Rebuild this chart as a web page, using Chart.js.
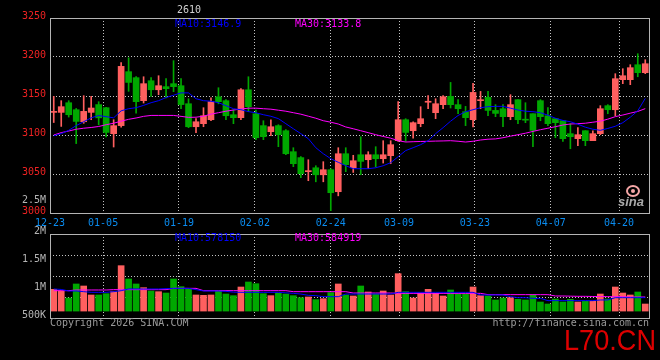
<!DOCTYPE html>
<html>
<head>
<meta charset="utf-8">
<script src="https://cdn.jsdelivr.net/npm/chart.js@4.4.1/dist/chart.umd.min.js"></script>
<style>
  html, body { margin: 0; padding: 0; background: #000; }
  #wrap { position: relative; width: 660px; height: 360px; background: #000; }
  #wrap canvas { position: absolute; left: 0; top: 0; }
</style>
</head>
<body>
<div id="wrap">
  <canvas id="kline" width="660" height="360"></canvas>
  <canvas id="volume" width="660" height="360"></canvas>
</div>
<script>
// trading days shown on the chart
const dates = [
  '12-23', '12-24', '12-25', '12-26', '12-29', '12-30', '12-31',
  '01-05', '01-06', '01-07', '01-08', '01-09', '01-12', '01-13', '01-14', '01-15', '01-16',
  '01-19', '01-20', '01-21', '01-22', '01-23', '01-26', '01-27', '01-28', '01-29', '01-30',
  '02-02', '02-03', '02-04', '02-05', '02-06', '02-09', '02-10', '02-11', '02-12', '02-13',
  '02-24', '02-25', '02-26', '02-27',
  '03-02', '03-03', '03-04', '03-05', '03-06', '03-09', '03-10', '03-11', '03-12', '03-13',
  '03-16', '03-17', '03-18', '03-19', '03-20', '03-23', '03-24', '03-25', '03-26', '03-27',
  '03-30', '03-31', '04-01', '04-02', '04-03',
  '04-07', '04-08', '04-09', '04-10', '04-13', '04-14', '04-15', '04-16', '04-17',
  '04-20', '04-21', '04-22', '04-23', '04-24'
];
const tickDates = ['12-23', '01-05', '01-19', '02-02', '02-24', '03-09', '03-23', '04-07', '04-20'];

const openP = [
  3129, 3129, 3141.4, 3132.4, 3117, 3129, 3139, 3135, 3101.7, 3112,
  3181.2, 3173.5, 3144, 3169.6, 3158, 3162, 3165.8, 3163.2, 3140.1, 3110.6,
  3114.5, 3119.6, 3149, 3144, 3126, 3122.2, 3158, 3127.3, 3112, 3104.2,
  3112, 3105.5, 3078.6, 3071, 3053, 3058, 3049, 3055.5, 3027.3, 3076,
  3058, 3074.7, 3068.3, 3074.7, 3069.6, 3073.5, 3092.7, 3119.6, 3105.5, 3114.5,
  3142, 3128.6, 3138.9, 3149.5, 3138.9, 3129.9, 3119.6, 3144, 3148.2, 3131.5,
  3133.7, 3123.5, 3145.3, 3119.6, 3127.3, 3144, 3124.7, 3120.9, 3118.3, 3101.7,
  3095.3, 3105.5, 3092.7, 3101.7, 3137.6, 3132.4, 3170.9, 3170.9, 3190.1, 3179.9
];
const highP = [
  3149.5, 3144, 3144, 3134, 3150.4, 3149.5, 3142.7, 3135.5, 3119.6, 3193,
  3199, 3175, 3174.7, 3173.5, 3176, 3172.2, 3195.3, 3172.2, 3146.5, 3121,
  3135, 3147.8, 3160.6, 3145.3, 3132.4, 3159.4, 3174.7, 3132, 3118.3, 3119.6,
  3113.2, 3106.8, 3083.7, 3072.2, 3068.3, 3060.6, 3065.8, 3056.8, 3083.7, 3083.7,
  3074, 3097.8, 3078.6, 3085, 3092.7, 3092.7, 3142.7, 3120.9, 3117, 3136.3,
  3150.4, 3146.5, 3150.4, 3167.4, 3145.3, 3136.7, 3166.2, 3155.9, 3155.9, 3138.9,
  3138.9, 3151.7, 3145.3, 3141.4, 3127.3, 3145.3, 3135, 3120.9, 3118.3, 3114.5,
  3109.4, 3105.5, 3105.5, 3137.6, 3138.9, 3178.6, 3185, 3190.1, 3204.2, 3196.5
];
const lowP = [
  3116, 3111, 3123, 3089, 3115, 3119.6, 3113, 3097.4, 3084.6, 3110,
  3156, 3128, 3141, 3149.5, 3151.7, 3147.4, 3155.5, 3133.7, 3109.4, 3103,
  3110.6, 3118.3, 3140, 3119.6, 3114.5, 3119.6, 3130, 3094, 3094, 3099,
  3085, 3074.7, 3059.4, 3045.3, 3041.4, 3040, 3040, 3003, 3022, 3053,
  3052, 3049.1, 3056.8, 3059, 3064, 3063.2, 3091.8, 3091.8, 3096, 3110.6,
  3133.7, 3120.9, 3133.7, 3134.6, 3127.3, 3112, 3110.3, 3133.7, 3124.7, 3123.5,
  3110.6, 3119.6, 3114.5, 3115.8, 3085, 3118.3, 3112, 3096.5, 3091.8, 3082.4,
  3086.3, 3086.3, 3092.7, 3100.4, 3127.3, 3124.7, 3165.8, 3164.5, 3174.7, 3178.6
];
const closeP = [
  3129.8, 3136.3, 3126, 3117.4, 3130.3, 3134.6, 3122, 3103.3, 3112, 3188,
  3167.4, 3142.7, 3165.8, 3158, 3163.2, 3159.4, 3162, 3139, 3110.6, 3117,
  3124.7, 3142.7, 3142.7, 3124.7, 3122.2, 3158, 3136.3, 3096.5, 3097.8, 3110.6,
  3100.4, 3076, 3063.2, 3050.4, 3054.3, 3049, 3055.5, 3026, 3076, 3062,
  3067, 3066.2, 3074.7, 3069.6, 3074.7, 3087.6, 3119.6, 3103.3, 3115.8, 3120.9,
  3142.7, 3140.1, 3149.1, 3138.9, 3133.7, 3122.2, 3154.6, 3144.6, 3131.5, 3127.7,
  3123.5, 3138.9, 3119.6, 3119, 3105.9, 3123.5, 3114.5, 3115.8, 3095.3, 3097.8,
  3100.4, 3092.7, 3101.7, 3133.7, 3132.4, 3172.2, 3176, 3186.3, 3179.9, 3191.4
];
const ma10 = [
  3099, 3101.7, 3106, 3112, 3117, 3122, 3125, 3123.5, 3122, 3131,
  3133.7, 3135, 3138, 3141.4, 3144, 3148, 3151, 3154, 3154, 3146.5,
  3144, 3143.3, 3141.4, 3137.6, 3133.7, 3132.4, 3130, 3128.5, 3126, 3124,
  3121, 3114.5, 3108, 3101.7, 3095.3, 3083.7, 3076, 3069.6, 3065, 3060.6,
  3056.8, 3056.8, 3056.8, 3058, 3060.6, 3064.5, 3072.2, 3080, 3083.7, 3087.6,
  3092.7, 3101.7, 3109.4, 3117.7, 3125, 3129.9, 3132.4, 3135, 3136.3, 3136.7,
  3136.7, 3134.4, 3132, 3130.5, 3129.9, 3128.6, 3125.4, 3121.5, 3118.7, 3117,
  3113.8, 3110, 3107.4, 3106, 3108.4, 3111.2, 3115.8, 3122.8, 3131, 3146.9
];
const ma30 = [
  3100, 3103, 3105.1, 3107.4, 3108.7, 3109.6, 3110.9, 3113.2, 3115.1, 3117.7,
  3120.1, 3121.8, 3123.9, 3125.1, 3125.1, 3125.1, 3125.1, 3123.9, 3122.6, 3122.8,
  3124.1, 3126.7, 3128.6, 3130.5, 3132, 3133.3, 3134.4, 3134.4, 3133.7, 3133.1,
  3131.8, 3130.5, 3128.6, 3126.7, 3124.1, 3121.5, 3118.3, 3116.4, 3114.1, 3110.3,
  3108, 3105.5, 3103, 3100.4, 3098.1, 3095.9, 3092.7, 3091, 3091.4, 3091.7,
  3091.9, 3092.2, 3092.4, 3092.7, 3092, 3091, 3092, 3093.6, 3094.6, 3095,
  3096.5, 3098.5, 3100.4, 3102.3, 3104.6, 3106.8, 3108.7, 3110.6, 3112.8, 3114.1,
  3114.5, 3115.1, 3116.4, 3117.7, 3120.3, 3123.5, 3125.6, 3128, 3130.2, 3133.8
];
const volume = [
  683000, 643000, 476000, 810000, 762000, 548000, 548000, 579000, 627000, 1246000,
  929000, 810000, 722000, 643000, 627000, 595000, 929000, 746000, 683000, 548000,
  540000, 548000, 643000, 571000, 532000, 738000, 857000, 817000, 579000, 532000,
  595000, 571000, 532000, 484000, 500000, 437000, 460000, 603000, 810000, 548000,
  524000, 762000, 619000, 571000, 643000, 548000, 1056000, 627000, 476000, 595000,
  683000, 587000, 524000, 667000, 571000, 571000, 738000, 532000, 524000, 429000,
  476000, 484000, 444000, 429000, 548000, 381000, 333000, 452000, 381000, 444000,
  381000, 397000, 397000, 571000, 452000, 738000, 595000, 548000, 619000, 333000
];
const volMa10 = [
  691000, 680000, 643000, 643000, 627000, 611000, 611000, 611000, 627000, 650000,
  691000, 691000, 691000, 691000, 691000, 700000, 706000, 706000, 706000, 675000,
  643000, 643000, 643000, 635000, 615000, 611000, 611000, 611000, 611000, 611000,
  611000, 600000, 587000, 570000, 540000, 532000, 508000, 508000, 508000, 571000,
  571000, 571000, 571000, 571000, 571000, 571000, 611000, 611000, 611000, 611000,
  611000, 611000, 611000, 611000, 611000, 611000, 611000, 548000, 548000, 548000,
  548000, 508000, 484000, 484000, 468000, 468000, 413000, 413000, 413000, 413000,
  413000, 413000, 413000, 429000, 429000, 484000, 484000, 484000, 484000, 484000
];
const volMa30 = [
  651000, 651000, 651000, 667000, 667000, 667000, 667000, 667000, 675000, 675000,
  675000, 675000, 675000, 675000, 675000, 675000, 706000, 706000, 706000, 706000,
  651000, 651000, 651000, 651000, 651000, 651000, 651000, 651000, 651000, 651000,
  651000, 651000, 627000, 627000, 627000, 627000, 627000, 627000, 627000, 627000,
  595000, 595000, 595000, 595000, 595000, 595000, 587000, 587000, 587000, 587000,
  587000, 587000, 587000, 587000, 587000, 587000, 587000, 587000, 556000, 556000,
  556000, 556000, 556000, 556000, 556000, 556000, 556000, 524000, 524000, 520000,
  516000, 516000, 512000, 512000, 508000, 508000, 508000, 500000, 500000, 500000
];
const title = '2610';
const priceMaText = ['MA10:3146.9', 'MA30:3133.8'];
const volMaText = ['MA10:578150', 'MA30:584919'];

const UP = '#ff5f5f';
const DOWN = '#00a800';
const MONO = '"DejaVu Sans Mono", monospace';
const GRID = '#c4c4c4';

const candleColor = dates.map((d, i) => closeP[i] >= openP[i] ? UP : DOWN);
const pts = arr => arr.map((v, i) => ({ x: i, y: v }));

// sina places its date lines 7.6px apart per day while candles sit 7.5px apart
const xAxis = showLabels => ({
  type: 'linear',
  min: -0.5,
  max: dates.length - 0.5,
  offset: false,
  afterBuildTicks: axis => {
    axis.ticks = tickDates.map(d => ({ value: dates.indexOf(d) * 76 / 75 - 0.5 }));
  },
  afterFit: axis => { axis.height = showLabels ? 20 : 0; },
  ticks: {
    display: showLabels,
    autoSkip: false,
    maxRotation: 0,
    padding: 4,
    color: '#0a8cf0',
    font: { family: MONO, size: 10 },
    callback: (v, i) => tickDates[i]
  },
  grid: { color: GRID, drawTicks: false, offset: false },
  border: { display: false, dash: [1, 2] }
});

const frame = {
  id: 'frame',
  afterDraw(chart) {
    const { ctx, chartArea: a } = chart;
    ctx.save();
    ctx.strokeStyle = '#b4b4b4';
    ctx.lineWidth = 1;
    ctx.strokeRect(Math.round(a.left) + 0.5, Math.round(a.top) + 0.5,
      Math.round(a.right - a.left), Math.round(a.bottom - a.top));
    ctx.restore();
  }
};

const priceNotes = {
  id: 'priceNotes',
  afterDraw(chart) {
    const ctx = chart.ctx;
    ctx.save();
    ctx.font = '10px ' + MONO;
    ctx.textBaseline = 'middle';
    ctx.fillStyle = '#d0d0d0';
    ctx.fillText(title, 177, 10);
    ctx.fillStyle = '#0000ff';
    ctx.fillText(priceMaText[0], 175, 24);
    ctx.fillStyle = '#ff00ff';
    ctx.fillText(priceMaText[1], 295, 24);
    ctx.fillStyle = '#b4b4b4';
    ctx.textAlign = 'right';
    ctx.fillText('2.5M', 46, 200);

    // sina logo
    ctx.strokeStyle = '#f4a6a6';
    ctx.lineWidth = 2;
    ctx.beginPath();
    ctx.ellipse(633, 191, 6, 5, 0, 0, Math.PI * 2);
    ctx.stroke();
    ctx.fillStyle = '#f4a6a6';
    ctx.beginPath();
    ctx.arc(633, 191, 2, 0, Math.PI * 2);
    ctx.fill();
    ctx.fillStyle = '#a8a8a8';
    ctx.textAlign = 'left';
    ctx.textBaseline = 'alphabetic';
    ctx.font = 'italic bold 13px "Liberation Sans", sans-serif';
    ctx.fillText('sina', 618, 206);
    ctx.restore();
  }
};

const volNotes = {
  id: 'volNotes',
  afterDraw(chart) {
    const ctx = chart.ctx;
    ctx.save();
    ctx.font = '10px ' + MONO;
    ctx.textBaseline = 'middle';
    ctx.fillStyle = '#0000ff';
    ctx.fillText(volMaText[0], 175, 238);
    ctx.fillStyle = '#ff00ff';
    ctx.fillText(volMaText[1], 295, 238);
    ctx.fillStyle = '#9a9a9a';
    ctx.fillText('Copyright 2026 SINA.COM', 50, 323);
    ctx.textAlign = 'right';
    ctx.fillText('http://finance.sina.com.cn', 649, 323);
    ctx.fillStyle = '#dd0000';
    ctx.textBaseline = 'alphabetic';
    ctx.font = '29px "Liberation Sans", Arial, sans-serif';
    ctx.fillText('L70.CN', 656, 350, 92);
    ctx.restore();
  }
};

new Chart(document.getElementById('kline'), {
  type: 'bar',
  data: {
    datasets: [
      { type: 'line', data: pts(ma10), borderColor: '#0000ff', borderWidth: 1, pointRadius: 0, order: 0 },
      { type: 'line', data: pts(ma30), borderColor: '#ff00ff', borderWidth: 1, pointRadius: 0, order: 0 },
      {
        data: dates.map((d, i) => ({ x: i, y: [openP[i], closeP[i]] })),
        backgroundColor: candleColor, barThickness: 6, minBarLength: 1, grouped: false, order: 1
      },
      {
        data: dates.map((d, i) => ({ x: i, y: [lowP[i], highP[i]] })),
        backgroundColor: candleColor, barThickness: 1, grouped: false, order: 2
      }
    ]
  },
  options: {
    responsive: false,
    animation: false,
    events: [],
    layout: { padding: { top: 18, right: 11, bottom: 127, left: 0 } },
    plugins: { legend: { display: false }, tooltip: { enabled: false } },
    scales: {
      x: xAxis(true),
      y: {
        min: 3000,
        max: 3250,
        afterFit: axis => { axis.width = 50; },
        ticks: {
          stepSize: 50,
          padding: 4,
          labelOffset: -2,
          color: '#ee2222',
          font: { family: MONO, size: 10 },
          callback: v => String(v)
        },
        grid: { color: GRID, drawTicks: false },
        border: { display: false, dash: [1, 2] }
      }
    }
  },
  plugins: [frame, priceNotes]
});

new Chart(document.getElementById('volume'), {
  type: 'bar',
  data: {
    datasets: [
      { type: 'line', data: pts(volMa10), yAxisID: 'v', borderColor: '#0000ff', borderWidth: 1, pointRadius: 0, order: 0 },
      { type: 'line', data: pts(volMa30), yAxisID: 'v', borderColor: '#ff00ff', borderWidth: 1, pointRadius: 0, order: 0 },
      {
        data: pts(volume), yAxisID: 'v', base: 165000,
        backgroundColor: candleColor, barThickness: 6, grouped: false, order: 1
      }
    ]
  },
  options: {
    responsive: false,
    animation: false,
    events: [],
    layout: { padding: { top: 234, right: 11, bottom: 42, left: 0 } },
    plugins: { legend: { display: false }, tooltip: { enabled: false } },
    scales: {
      x: xAxis(false),
      v: {
        position: 'right',
        min: 0,
        max: 2000000,
        afterFit: axis => { axis.width = 0; },
        ticks: { display: false, stepSize: 500000 },
        grid: { color: GRID, drawTicks: false },
        border: { display: false, dash: [1, 2] }
      },
      vl: {
        position: 'left',
        min: 500000,
        max: 2000000,
        afterFit: axis => { axis.width = 50; },
        ticks: {
          stepSize: 500000,
          padding: 4,
          labelOffset: -3,
          color: '#b4b4b4',
          font: { family: MONO, size: 10 },
          callback: v => v >= 1000000 ? (v / 1000000) + 'M' : (v / 1000) + 'K'
        },
        grid: { display: false, drawTicks: false },
        border: { display: false }
      }
    }
  },
  plugins: [frame, volNotes]
});
</script>
</body>
</html>
